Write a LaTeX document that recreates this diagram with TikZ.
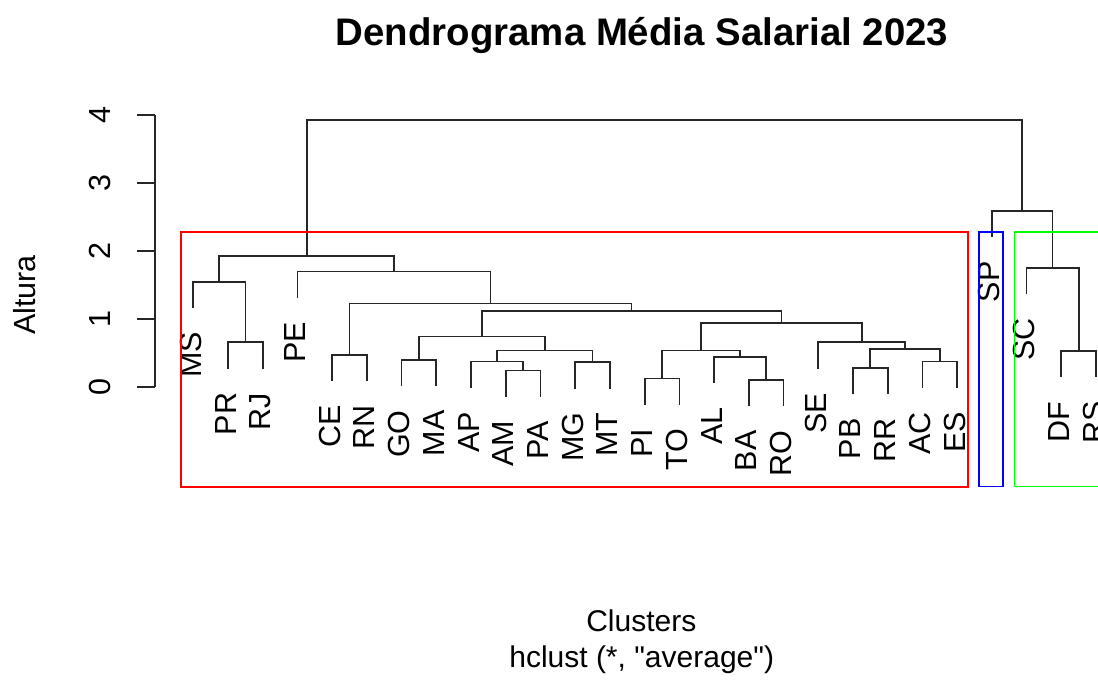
\documentclass[tikz,border=0pt]{standalone}
\usepackage{fontspec}
\setmainfont{Liberation Sans}
\newfontfamily\plainfont{Liberation Sans}
\usetikzlibrary{calc}

\tikzset{
  link/.style={line width=1.7pt, black!85},
  axisline/.style={line width=1.7pt, black!85},
  lab/.style={rotate=90, anchor=east, inner sep=0pt, font=\fontsize{30.5}{36}\selectfont},
  ticklab/.style={rotate=90, inner sep=0pt, font=\fontsize{30.5}{36}\selectfont},
  plaintext/.style={inner sep=0pt, anchor=base, font=\plainfont\fontsize{30}{36}\selectfont},
  clusterbox/.style={line width=1.6pt},
}

% height on the dendrogram scale -> vertical position
\newcommand\hgt[1]{(292.7+68.1*(#1))*1pt}
% leaf: name, index, height of the merge it hangs from
\newcommand\leafat[3]{%
  \coordinate (#1) at ({(193.3+34.72*#2)*1pt},{\hgt{#3-0.385}});
  \node[lab] (t#1) at ([xshift=-2.5pt,yshift=-24pt]#1) {#1};
}
% merge: name, left child, right child, height
\newcommand\dmerge[4]{%
  \path let \p1=(#2), \p2=(#3) in ({(\x1+\x2)/2},{\hgt{#4}}) coordinate (#1);
  \draw[link] (#2) |- (#1) -| (#3);
}

\begin{document}
\begin{tikzpicture}[x=1pt,y=1pt]
\useasboundingbox (0,0) rectangle (1098,680);
\clip (0,0) rectangle (1098,680);

% title and axis titles
\node[inner sep=0pt, anchor=base, font=\bfseries\fontsize{38.4}{46}\selectfont] (title) at (642,634) {Dendrograma Média Salarial 2023};
\node[plaintext] (xlab) at (641.3,48.3) {Clusters};
\node[plaintext] (sub) at (641.7,12.3) {hclust (*, "average")};
\node[ticklab] (ylab) at (25,385) {Altura};

% height axis
\coordinate (ax0) at (155,{\hgt{0}});
\coordinate (ax4) at (155,{\hgt{4}});
\draw[axisline] (ax0) -- (ax4);
\foreach \k in {0,...,4}{
  \coordinate (tA\k) at (155,{\hgt{\k}});
  \coordinate (tB\k) at (137,{\hgt{\k}});
  \draw[axisline] (tA\k) -- (tB\k);
  \node[ticklab] (y\k) at (100,{\hgt{\k}}) {\k};
}

% leaves
\leafat{MS}{0}{1.55}
\leafat{PR}{1}{0.66}
\leafat{RJ}{2}{0.66}
\leafat{PE}{3}{1.70}
\leafat{CE}{4}{0.475}
\leafat{RN}{5}{0.475}
\leafat{GO}{6}{0.40}
\leafat{MA}{7}{0.40}
\leafat{AP}{8}{0.377}
\leafat{AM}{9}{0.245}
\leafat{PA}{10}{0.245}
\leafat{MG}{11}{0.367}
\leafat{MT}{12}{0.367}
\leafat{PI}{13}{0.13}
\leafat{TO}{14}{0.13}
\leafat{AL}{15}{0.45}
\leafat{BA}{16}{0.107}
\leafat{RO}{17}{0.107}
\leafat{SE}{18}{0.66}
\leafat{PB}{19}{0.28}
\leafat{RR}{20}{0.28}
\leafat{AC}{21}{0.377}
\leafat{ES}{22}{0.377}
\leafat{SP}{23}{2.59}
\leafat{SC}{24}{1.756}
\leafat{DF}{25}{0.533}
\leafat{RS}{26}{0.533}

% merges, bottom up
\dmerge{m1}{PR}{RJ}{0.66}
\dmerge{m2}{MS}{m1}{1.55}
\dmerge{m3}{CE}{RN}{0.475}
\dmerge{m4}{GO}{MA}{0.40}
\dmerge{m5}{AM}{PA}{0.245}
\dmerge{m6}{AP}{m5}{0.377}
\dmerge{m7}{MG}{MT}{0.367}
\dmerge{m8}{m6}{m7}{0.54}
\dmerge{m9}{m4}{m8}{0.745}
\dmerge{m10}{PI}{TO}{0.13}
\dmerge{m11}{BA}{RO}{0.107}
\dmerge{m12}{AL}{m11}{0.45}
\dmerge{m13}{m10}{m12}{0.54}
\dmerge{m14}{PB}{RR}{0.28}
\dmerge{m15}{AC}{ES}{0.377}
\dmerge{m16}{m14}{m15}{0.56}
\dmerge{m17}{SE}{m16}{0.66}
\dmerge{m18}{m13}{m17}{0.94}
\dmerge{m19}{m9}{m18}{1.12}
\dmerge{m20}{m3}{m19}{1.23}
\dmerge{m21}{PE}{m20}{1.70}
\dmerge{m22}{m2}{m21}{1.93}
\dmerge{m23}{DF}{RS}{0.533}
\dmerge{m24}{SC}{m23}{1.756}
\dmerge{m25}{SP}{m24}{2.59}
\dmerge{m26}{m22}{m25}{3.92}

% cluster boxes
\draw[clusterbox, red] (181,447.7) rectangle (967.8,192.8);
\draw[clusterbox, blue] (979,447.7) rectangle (1002.7,193.3);
\draw[clusterbox, green] (1014.3,447.7) rectangle (1130,193.3);
\end{tikzpicture}
\end{document}
